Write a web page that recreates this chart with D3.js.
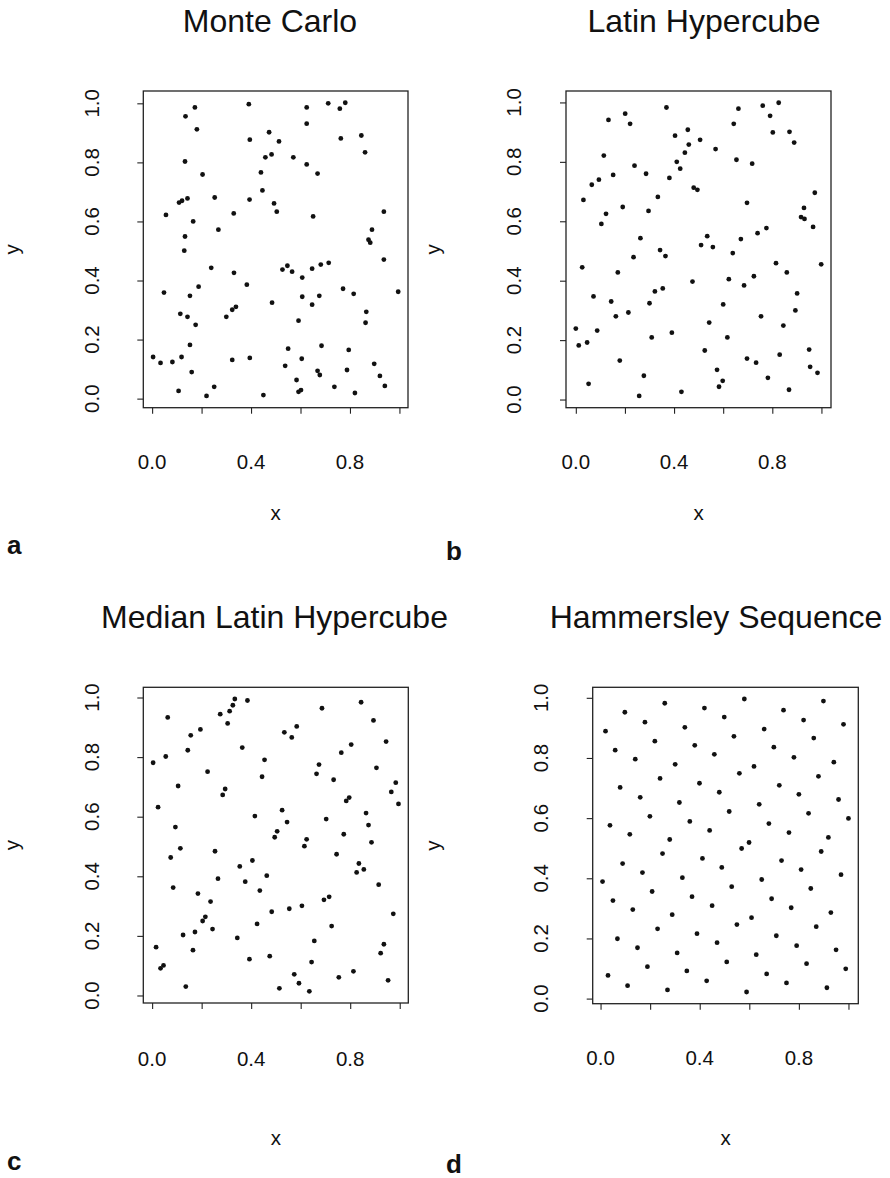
<!DOCTYPE html>
<html>
<head>
<meta charset="utf-8">
<script src="https://cdn.jsdelivr.net/npm/d3@7"></script>
<style>
  html, body { margin: 0; padding: 0; background: #fff; }
  svg { display: block; }
  text { font-family: "Liberation Sans", Arial, Helvetica, sans-serif; fill: #111; }
</style>
</head>
<body>
<svg id="chart" width="890" height="1178"></svg>
<script>
// Monte Carlo sample
const mcX = [0.173,0.135,0.391,0.625,0.712,0.759,0.781,0.625,0.181,0.473,
  0.395,0.513,0.763,0.846,0.861,0.458,0.483,0.571,0.133,0.625,
  0.204,0.440,0.669,0.446,0.109,0.121,0.143,0.253,0.394,0.493,
  0.504,0.056,0.330,0.651,0.937,0.166,0.268,0.889,0.875,0.882,
  0.133,0.130,0.937,0.239,0.331,0.527,0.547,0.566,0.647,0.682,
  0.714,0.607,0.383,0.188,0.048,0.153,0.772,0.815,0.995,0.607,
  0.676,0.485,0.647,0.339,0.324,0.114,0.143,0.300,0.176,0.866,
  0.863,0.592,0.153,0.550,0.685,0.795,0.004,0.034,0.082,0.119,
  0.324,0.395,0.605,0.538,0.160,0.669,0.678,0.788,0.898,0.921,
  0.584,0.107,0.251,0.220,0.450,0.592,0.602,0.737,0.820,0.941];
const mcY = [0.986,0.956,0.997,0.986,1.000,0.982,1.002,0.931,0.912,0.902,
  0.877,0.871,0.881,0.891,0.834,0.817,0.827,0.817,0.803,0.793,
  0.759,0.766,0.762,0.705,0.664,0.670,0.678,0.681,0.674,0.661,
  0.633,0.622,0.627,0.617,0.633,0.600,0.572,0.572,0.538,0.528,
  0.549,0.501,0.471,0.443,0.426,0.437,0.450,0.430,0.440,0.454,
  0.460,0.410,0.386,0.379,0.359,0.348,0.372,0.355,0.362,0.345,
  0.348,0.325,0.318,0.311,0.301,0.287,0.277,0.277,0.250,0.294,
  0.257,0.264,0.182,0.169,0.179,0.165,0.141,0.121,0.124,0.141,
  0.131,0.138,0.135,0.111,0.090,0.094,0.080,0.097,0.118,0.077,
  0.063,0.026,0.040,0.009,0.012,0.023,0.029,0.040,0.019,0.043];

// Latin hypercube sample
const lhsX = [0.369,0.201,0.133,0.221,0.662,0.761,0.826,0.791,0.643,0.802,
  0.870,0.889,0.404,0.456,0.460,0.506,0.569,0.444,0.114,0.411,
  0.425,0.654,0.718,0.239,0.152,0.286,0.381,0.094,0.065,0.480,
  0.495,0.031,0.334,0.191,0.296,0.123,0.104,0.697,0.973,0.929,
  0.917,0.931,0.966,0.776,0.740,0.535,0.510,0.558,0.672,0.263,
  0.639,0.343,0.365,0.235,0.026,0.171,0.815,0.859,0.999,0.475,
  0.623,0.725,0.685,0.322,0.354,0.072,0.144,0.300,0.901,0.214,
  0.163,0.600,0.894,0.754,0.543,0.845,0.000,0.087,0.012,0.046,
  0.309,0.391,0.617,0.525,0.179,0.697,0.734,0.830,0.950,0.954,
  0.984,0.575,0.598,0.583,0.782,0.868,0.277,0.052,0.258,0.430];
const lhsY = [0.983,0.962,0.941,0.928,0.979,0.989,0.999,0.955,0.928,0.899,
  0.901,0.865,0.888,0.908,0.858,0.874,0.843,0.831,0.821,0.800,
  0.777,0.807,0.794,0.787,0.756,0.760,0.746,0.740,0.723,0.713,
  0.706,0.672,0.682,0.648,0.635,0.625,0.591,0.662,0.696,0.645,
  0.614,0.608,0.581,0.577,0.560,0.550,0.520,0.513,0.540,0.543,
  0.493,0.503,0.483,0.479,0.445,0.428,0.459,0.428,0.455,0.397,
  0.405,0.415,0.384,0.364,0.374,0.347,0.330,0.324,0.357,0.293,
  0.280,0.320,0.300,0.280,0.259,0.249,0.239,0.232,0.182,0.192,
  0.209,0.225,0.209,0.165,0.131,0.138,0.124,0.151,0.168,0.110,
  0.090,0.100,0.063,0.043,0.073,0.033,0.080,0.053,0.012,0.026];

// Median Latin hypercube sample
const mlhsX = [0.334,0.385,0.326,0.313,0.275,0.305,0.063,0.195,0.156,0.144,
  0.055,0.004,0.364,0.224,0.454,0.444,0.105,0.295,0.285,0.024,
  0.686,0.844,0.894,0.534,0.564,0.584,0.945,0.804,0.764,0.674,
  0.664,0.906,0.733,0.984,0.966,0.796,0.784,0.995,0.864,0.874,
  0.703,0.774,0.886,0.415,0.525,0.545,0.505,0.495,0.624,0.615,
  0.094,0.114,0.075,0.254,0.405,0.354,0.745,0.835,0.826,0.855,
  0.266,0.376,0.463,0.085,0.435,0.915,0.185,0.236,0.694,0.715,
  0.483,0.554,0.605,0.974,0.215,0.204,0.424,0.244,0.173,0.125,
  0.725,0.344,0.655,0.016,0.165,0.936,0.923,0.393,0.475,0.644,
  0.034,0.046,0.574,0.593,0.635,0.514,0.754,0.813,0.953,0.136];
const mlhsY = [0.995,0.990,0.974,0.954,0.944,0.913,0.933,0.893,0.873,0.823,
  0.802,0.781,0.832,0.751,0.791,0.734,0.703,0.693,0.673,0.632,
  0.964,0.984,0.923,0.883,0.866,0.903,0.852,0.842,0.815,0.775,
  0.744,0.764,0.724,0.714,0.683,0.664,0.653,0.643,0.612,0.572,
  0.592,0.541,0.514,0.602,0.622,0.582,0.551,0.531,0.524,0.501,
  0.565,0.494,0.463,0.484,0.453,0.433,0.474,0.443,0.413,0.423,
  0.392,0.382,0.402,0.362,0.352,0.372,0.342,0.315,0.321,0.331,
  0.281,0.291,0.301,0.274,0.264,0.250,0.240,0.223,0.213,0.203,
  0.233,0.193,0.183,0.162,0.152,0.172,0.142,0.122,0.132,0.112,
  0.091,0.101,0.071,0.041,0.014,0.024,0.061,0.081,0.051,0.030];

// Hammersley sequence points
const hamX = [0.008,0.020,0.038,0.030,0.050,0.059,0.068,0.079,0.089,0.098,
  0.109,0.118,0.130,0.140,0.149,0.160,0.169,0.179,0.189,0.199,
  0.208,0.219,0.230,0.240,0.250,0.259,0.270,0.279,0.289,0.301,
  0.309,0.318,0.330,0.340,0.348,0.360,0.369,0.380,0.389,0.399,
  0.411,0.419,0.428,0.440,0.450,0.459,0.470,0.479,0.489,0.499,
  0.509,0.519,0.529,0.538,0.550,0.560,0.569,0.580,0.589,0.599,
  0.609,0.619,0.628,0.640,0.650,0.660,0.670,0.679,0.690,0.699,
  0.709,0.721,0.730,0.738,0.750,0.760,0.769,0.780,0.791,0.800,
  0.809,0.819,0.831,0.839,0.848,0.860,0.870,0.879,0.890,0.899,
  0.913,0.919,0.929,0.941,0.950,0.960,0.970,0.980,0.989,1.000];
const hamY = [0.389,0.889,0.576,0.077,0.326,0.826,0.199,0.702,0.449,0.952,
  0.043,0.546,0.296,0.796,0.169,0.669,0.419,0.919,0.106,0.606,
  0.356,0.856,0.232,0.732,0.482,0.982,0.029,0.529,0.279,0.779,
  0.152,0.652,0.402,0.902,0.092,0.589,0.339,0.842,0.216,0.716,
  0.466,0.966,0.059,0.559,0.309,0.812,0.186,0.686,0.436,0.936,
  0.122,0.622,0.372,0.872,0.246,0.749,0.499,0.996,0.022,0.519,
  0.269,0.772,0.146,0.646,0.396,0.896,0.082,0.582,0.332,0.836,
  0.209,0.709,0.459,0.959,0.052,0.552,0.302,0.802,0.176,0.679,
  0.429,0.926,0.116,0.616,0.366,0.866,0.239,0.739,0.489,0.989,
  0.036,0.536,0.286,0.786,0.162,0.662,0.412,0.912,0.099,0.599];

const titles = ["Monte Carlo", "Latin Hypercube", "Median Latin Hypercube", "Hammersley Sequence"];
const letters = ["a", "b", "c", "d"];
const tickValues = [0, 0.2, 0.4, 0.6, 0.8, 1.0];
const xTickLabels = [0, 0.4, 0.8];
const yTickLabels = [0, 0.2, 0.4, 0.6, 0.8, 1.0];

// panel geometry (plot box and surrounding text anchors)
const layout = [
  { box: [143.3, 91, 264.7, 316.7], titleX: 270, titleY: 31.7, tickY: 468.7, xlabY: 520, ylabX: 19, letterX: 7, letterY: 554 },
  { box: [566, 91, 265, 316.7], titleX: 704, titleY: 31.7, tickY: 468.5, xlabY: 520, ylabX: 440, letterX: 446, letterY: 560 },
  { box: [143.3, 687.3, 265, 315.7], titleX: 274.5, titleY: 628.3, tickY: 1065.7, xlabY: 1145, ylabX: 19, letterX: 7, letterY: 1170 },
  { box: [592.7, 687.3, 265.6, 316.4], titleX: 716, titleY: 628.3, tickY: 1065.3, xlabY: 1145, ylabX: 440, letterX: 446, letterY: 1173 }
];

const series = [[mcX, mcY], [lhsX, lhsY], [mlhsX, mlhsY], [hamX, hamY]];

const svg = d3.select("#chart");
svg.append("rect").attr("width", 890).attr("height", 1178).attr("fill", "#fff");

// R-style axis range: data extent widened by 4% on each side
function paddedExtent(v) {
  const [lo, hi] = d3.extent(v);
  const p = (hi - lo) * 0.04;
  return [lo - p, hi + p];
}

const tickFont = 20.5;

series.forEach(([xs, ys], i) => {
  const L = layout[i];
  const [bx, by, bw, bh] = L.box;
  const x = d3.scaleLinear().domain(paddedExtent(xs)).range([bx, bx + bw]);
  const y = d3.scaleLinear().domain(paddedExtent(ys)).range([by + bh, by]);
  const g = svg.append("g");

  // points
  g.append("g").selectAll("circle")
    .data(d3.range(xs.length))
    .join("circle")
    .attr("cx", k => x(xs[k]))
    .attr("cy", k => y(ys[k]))
    .attr("r", 2.4)
    .attr("fill", "#111");

  // tick marks
  const xAxis = d3.axisBottom(x).tickValues(tickValues).tickSize(6).tickSizeOuter(0).tickFormat("");
  const yAxis = d3.axisLeft(y).tickValues(tickValues).tickSize(6).tickSizeOuter(0).tickFormat("");
  const gx = g.append("g").attr("transform", `translate(0,${by + bh})`).call(xAxis);
  const gy = g.append("g").attr("transform", `translate(${bx},0)`).call(yAxis);
  [gx, gy].forEach(a => {
    a.select(".domain").remove();
    a.selectAll("line").attr("stroke", "#222").attr("stroke-width", 1.1);
  });

  // plot box
  g.append("rect")
    .attr("x", bx).attr("y", by).attr("width", bw).attr("height", bh)
    .attr("fill", "none").attr("stroke", "#222").attr("stroke-width", 1.3);

  // tick labels
  g.append("g").selectAll("text").data(xTickLabels).join("text")
    .attr("x", d => x(d)).attr("y", L.tickY)
    .attr("text-anchor", "middle").attr("font-size", tickFont)
    .text(d => d3.format(".1f")(d));
  g.append("g").selectAll("text").data(yTickLabels).join("text")
    .attr("transform", d => `translate(${bx - 44.6},${y(d)}) rotate(-90)`)
    .attr("text-anchor", "middle").attr("font-size", tickFont)
    .text(d => d3.format(".1f")(d));

  // axis titles
  g.append("text")
    .attr("x", bx + bw / 2).attr("y", L.xlabY)
    .attr("text-anchor", "middle").attr("font-size", tickFont).text("x");
  g.append("text")
    .attr("transform", `translate(${L.ylabX},${by + bh / 2}) rotate(-90)`)
    .attr("text-anchor", "middle").attr("font-size", tickFont).text("y");

  // main title
  g.append("text")
    .attr("x", L.titleX).attr("y", L.titleY)
    .attr("text-anchor", "middle").attr("font-size", 32).text(titles[i]);

  // panel letter
  g.append("text")
    .attr("x", L.letterX).attr("y", L.letterY)
    .attr("font-size", 26).attr("font-weight", "bold").text(letters[i]);
});
</script>
</body>
</html>
